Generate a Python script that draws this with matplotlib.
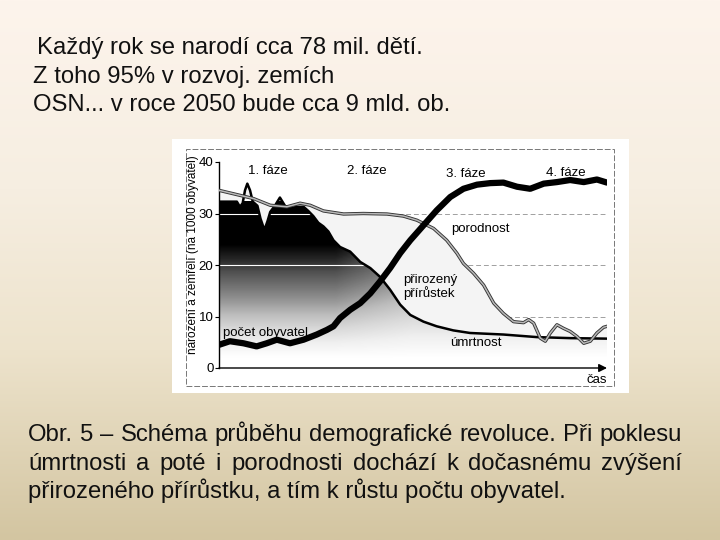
import numpy as np
import matplotlib
matplotlib.use('Agg')
import matplotlib.pyplot as plt
from matplotlib.colors import LinearSegmentedColormap
from matplotlib.patches import Rectangle, Polygon

plt.rcParams['font.family'] = ['Liberation Sans', 'DejaVu Sans']

# --- data (x = time 0..100, y = per 1000 inhabitants) ---
death_x = [0, 4.6, 5.4, 6.1, 6.7, 7.3, 8.0, 8.7, 9.9, 10.7, 11.7, 12.5, 13.2, 14.4,
           15.7, 17.0, 18.3, 20.0, 21.8, 23.0, 24.3, 25.6, 26.9, 28.2, 29.5, 31.2,
           33.8, 36.4, 39.0, 41.5, 44.1, 46.7, 49.3, 52.7, 56.1, 60.4, 64.7, 73.3,
           81.9, 90.5, 100]
death_y = [32.3, 32.3, 31.3, 32.0, 34.5, 35.8, 34.5, 32.3, 31.5, 29.0, 26.8, 28.5,
           30.3, 31.5, 33.1, 31.5, 31.0, 31.3, 31.3, 30.5, 29.5, 28.2, 27.5, 26.5,
           24.8, 23.5, 22.6, 20.6, 19.4, 17.7, 15.2, 12.3, 10.3, 9.0, 8.1, 7.3, 6.8,
           6.5, 6.0, 5.8, 5.7]

birth_x = [0, 8.9, 13.2, 17.5, 20.9, 23.5, 26.9, 32.1, 37.2, 43.3, 47.5, 51.0, 55.3,
           58.7, 61.3, 63.0, 65.6, 68.2, 70.8, 73.3, 75.9, 78.5, 79.8, 81.1, 82.8,
           84.1, 85.4, 87.1, 88.8, 90.5, 92.3, 94.0, 95.7, 97.4, 99.1, 100]
birth_y = [34.5, 32.9, 31.6, 31.3, 32.0, 31.6, 30.5, 29.9, 30.0, 29.9, 29.5, 28.7,
           27.1, 24.8, 22.3, 20.3, 18.4, 16.1, 12.6, 10.6, 9.0, 8.8, 9.4, 8.7, 5.8,
           5.2, 6.8, 8.4, 7.7, 7.1, 6.1, 4.8, 5.2, 6.8, 7.9, 8.1]

pop_x = [0, 2.8, 6.3, 9.7, 12.3, 14.9, 18.3, 21.8, 25.2, 27.8, 29.5, 31.2, 33.8,
         36.4, 39.0, 41.5, 44.1, 46.7, 49.3, 52.7, 56.1, 59.6, 63.0, 66.5, 69.9,
         73.3, 76.8, 80.2, 83.7, 87.1, 90.5, 94.0, 97.4, 100]
pop_y = [4.5, 5.2, 4.8, 4.2, 4.8, 5.5, 4.8, 5.5, 6.5, 7.4, 8.1, 9.7, 11.3, 12.6,
         14.5, 16.8, 19.4, 22.3, 24.8, 27.7, 30.6, 33.2, 34.8, 35.6, 35.9, 36.0,
         35.2, 34.8, 35.8, 36.1, 36.5, 36.1, 36.6, 36.0]

y_ticks = [0, 10, 20, 30, 40]
phase_labels = ['1. fáze', '2. fáze', '3. fáze', '4. fáze']
phase_x = [12.5, 38.1, 63.5, 89.3]
phase_y = [38.2, 38.2, 37.7, 37.9]

top_lines = ['Každý rok se narodí cca 78 mil. dětí.',
             'Z toho 95% v rozvoj. zemích',
             'OSN... v roce 2050 bude cca 9 mld. ob.']
caption_lines = ['Obr. 5 – Schéma průběhu demografické revoluce. Při poklesu',
                 'úmrtnosti a poté i porodnosti dochází k dočasnému zvýšení',
                 'přirozeného přírůstku, a tím k růstu počtu obyvatel.']

W, H = 720, 540
fig = plt.figure(figsize=(7.2, 5.4), dpi=100)

# slide background gradient
bg = fig.add_axes([0, 0, 1, 1], zorder=0)
bg_cmap = LinearSegmentedColormap.from_list(
    'slide', [(0, '#fdf4ec'), (0.35, '#f6eee1'), (0.65, '#ede3cc'), (1, '#d3c5a1')])
bg.imshow(np.linspace(0, 1, 256).reshape(-1, 1), cmap=bg_cmap, aspect='auto',
          extent=[0, 1, 0, 1], origin='upper')
bg.set_xlim(0, 1)
bg.set_ylim(0, 1)
bg.axis('off')

# scanned picture (white box + dashed frame)
fig.patches.append(Rectangle((172 / W, 1 - 393 / H), (629 - 172) / W, (393 - 139) / H,
                             transform=fig.transFigure, facecolor='white',
                             edgecolor='none', zorder=0.5))
fig.patches.append(Rectangle((186 / W, 1 - 386 / H), (614 - 186) / W, (386 - 149) / H,
                             transform=fig.transFigure, facecolor='none',
                             edgecolor='#777777', lw=0.7, ls=(0, (6, 2)), zorder=0.6))

# top text
top_base = [54, 83, 111]
top_left = [37, 33, 33]
for s, yb, xl in zip(top_lines, top_base, top_left):
    fig.text(xl / W, 1 - yb / H, s, fontsize=17.2, va='baseline', ha='left', color='#111111')


def justified(text, x0, x1, yb, size):
    words = text.split(' ')
    objs = [fig.text(0, 1 - yb / H, w, fontsize=size, va='baseline', ha='left',
                     color='#111111') for w in words]
    r = fig.canvas.get_renderer()
    widths = [o.get_window_extent(r).width for o in objs]
    gap = (x1 - x0 - sum(widths)) / (len(words) - 1)
    x = x0
    for o, wd in zip(objs, widths):
        o.set_x(x / W)
        x += wd + gap


cap_base = [441, 470, 498]
justified(caption_lines[0], 28, 682, cap_base[0], 17.2)
justified(caption_lines[1], 28, 682, cap_base[1], 17.2)
fig.text(28 / W, 1 - cap_base[2] / H, caption_lines[2], fontsize=17.2, va='baseline',
         ha='left', color='#111111')

# --- the diagram ---
ax = fig.add_axes([219 / W, 1 - 368 / H, (607 - 219) / W, (368 - 162) / H], zorder=2)
ax.set_xlim(0, 100)
ax.set_ylim(0, 40)
ax.patch.set_alpha(0)

for g in (10, 20, 30):
    ax.axhline(g, color='#a0a0a0', lw=0.7, ls=(0, (5, 3)), zorder=1)

# light zone between birth and death rate (natural increase)
ax.fill(birth_x + death_x[::-1], birth_y + death_y[::-1], color='#f4f4f4', lw=0, zorder=1.5)

# shaded area under the death rate (the spikes stay outlined only)
poly = Polygon(list(zip(death_x, death_y)) + [(100, 0), (0, 0)], closed=True,
               facecolor='none', edgecolor='none')
ax.add_patch(poly)
yy = np.linspace(0, 32.3, 200)[:, None]
xx = np.linspace(0, 100, 300)[None, :]
dark = np.clip((yy - 2) / 22, 0, 1) * (1 - 0.3 * np.clip((xx - 30) / 20, 0, 1))
im = ax.imshow(dark, cmap='Greys', vmin=0, vmax=1, origin='lower', aspect='auto',
               extent=[0, 100, 0, 32.3], zorder=2)
im.set_clip_path(poly)
for g in (20, 30):
    ln = ax.axhline(g, color='white', lw=0.8, zorder=2.5)
    ln.set_clip_path(poly)

ax.plot(death_x, death_y, color='black', lw=1.8, zorder=3)
ax.plot(birth_x, birth_y, color='#333333', lw=2.4, zorder=3.2, solid_capstyle='round')
ax.plot(birth_x, birth_y, color='#b8b8b8', lw=1.1, zorder=3.3)
ax.plot(pop_x, pop_y, color='black', lw=4.5, zorder=4, solid_capstyle='round')

for s, px, py in zip(phase_labels, phase_x, phase_y):
    ax.text(px, py, s, fontsize=9.5, ha='center', va='center', zorder=5)
ax.text(67.3, 26.9, 'porodnost', fontsize=9.5, ha='center', va='center', zorder=5)
ax.text(47.5, 17.1, 'přirozený', fontsize=9.5, ha='left', va='center', zorder=5)
ax.text(47.5, 14.5, 'přírůstek', fontsize=9.5, ha='left', va='center', zorder=5)
ax.text(1.1, 6.8, 'počet obyvatel', fontsize=9.5, ha='left', va='center', zorder=5)
ax.text(66.2, 4.8, 'úmrtnost', fontsize=9.5, ha='center', va='center', zorder=5)
ax.text(100, -2.3, 'čas', fontsize=9.5, ha='right', va='center', zorder=5)
ax.text(-0.068, 0.55, 'narození a zemřelí (na 1000 obyvatel)', transform=ax.transAxes,
        rotation=90, fontsize=8.5, ha='center', va='center')

for sp in ('top', 'right', 'bottom'):
    ax.spines[sp].set_visible(False)
ax.spines['left'].set_linewidth(1)
ax.set_xticks([])
ax.set_yticks(y_ticks)
ax.tick_params(axis='y', direction='out', length=3, pad=1, labelsize=9.5)
ax.annotate('', xy=(100, 0), xytext=(0, 0), annotation_clip=False,
            arrowprops=dict(arrowstyle='-|>', color='black', lw=1, mutation_scale=12,
                            shrinkA=0, shrinkB=0))

fig.savefig('out.png', dpi=100)
